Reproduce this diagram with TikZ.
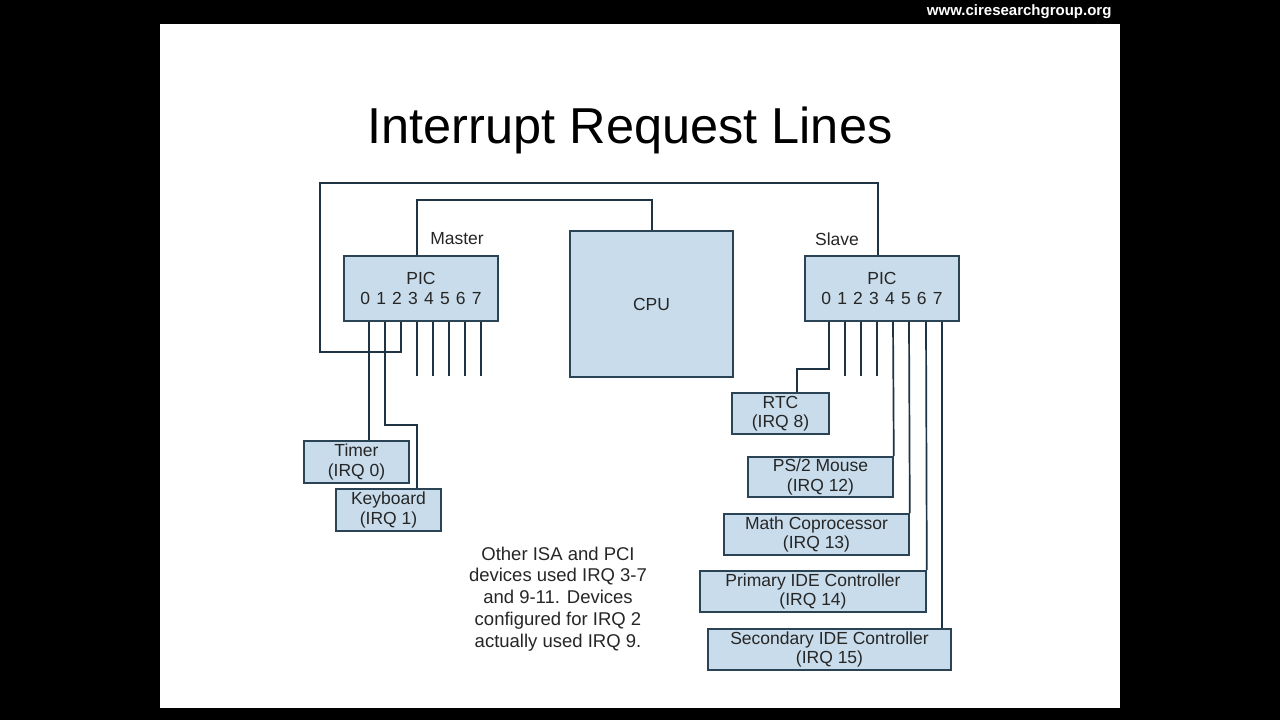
\documentclass[tikz,border=0pt]{standalone}
\usepackage{fontspec}
\setmainfont{Liberation Sans}
\newcommand\pindigits{0\hspace{6.2pt}1\hspace{6.2pt}2\hspace{6.2pt}3\hspace{6.2pt}4\hspace{6.2pt}5\hspace{6.2pt}6\hspace{6.2pt}7}
\begin{document}
\begin{tikzpicture}[x=1pt,y=-1pt,
  box/.style={draw=boxline,fill=boxfill,line width=1.6pt,inner sep=0pt,align=center,font=\fontsize{17.5}{19.5}\selectfont,text=black!85},
  wire/.style={draw=wirecol,line width=1.7pt},
  lbl/.style={font=\fontsize{17.5}{19}\selectfont,text=black!85}]
\definecolor{boxfill}{HTML}{C8DCEB}
\definecolor{boxline}{HTML}{2A4456}
\definecolor{wirecol}{HTML}{1E3344}
\useasboundingbox (0,0) rectangle (1280,720);
\fill[black] (0,0) rectangle (1280,720);
\fill[white] (160,24) rectangle (1120,708);
\node[text=white,font=\bfseries\fontsize{15}{17}\selectfont,anchor=east] (url) at (1115,12) {www.ciresearchgroup.org};
\node[font=\fontsize{50.5}{54}\selectfont] (title) at (630,130) {Interrupt Request Lines};
% boxes
\node[box,minimum width=154pt,minimum height=65pt] (mpic) at (421,288.5) {PIC\\\pindigits};
\node[box,minimum width=154pt,minimum height=65pt] (spic) at (882,288.5) {PIC\\\pindigits};
\node[box,minimum width=163pt,minimum height=146pt] (cpu) at (651.5,304) {CPU};
\node[box,minimum width=105pt,minimum height=42pt] (timer) at (356.5,462) {Timer\\(IRQ 0)};
\node[box,minimum width=105pt,minimum height=42pt] (kbd) at (388.5,510) {Keyboard\\(IRQ 1)};
\node[box,minimum width=97pt,minimum height=41pt] (rtc) at (780.5,413.5) {RTC\\(IRQ 8)};
\node[box,minimum width=145pt,minimum height=40pt] (mouse) at (820.5,477) {PS/2 Mouse\\(IRQ 12)};
\node[box,minimum width=185pt,minimum height=41pt] (math) at (816.5,534.5) {Math Coprocessor\\(IRQ 13)};
\node[box,minimum width=226pt,minimum height=41pt] (pide) at (813,591.5) {Primary IDE Controller\\(IRQ 14)};
\node[box,minimum width=243pt,minimum height=41pt] (side) at (829.5,649.5) {Secondary IDE Controller\\(IRQ 15)};
\node[lbl] (mlab) at (457,239) {Master};
\node[lbl] (slab) at (837,239) {Slave};
\node[lbl,align=center,font=\fontsize{18.5}{21.8}\selectfont] (note) at (558,599) {Other ISA and PCI\\devices used IRQ 3-7\\and 9-11. Devices\\configured for IRQ 2\\actually used IRQ 9.};
% wires
\draw[wire] (401,0 |- mpic.south) -- (401,352) -- (320,352) -- (320,183) -- (878,183) -- (878,0 |- spic.north);
\draw[wire] (417,0 |- mpic.north) -- (417,200) -- (652,200) -- (652,0 |- cpu.north);
\draw[wire] (369,0 |- mpic.south) -- (369,0 |- timer.north);
\draw[wire] (385,0 |- mpic.south) -- (385,425) -- (417,425) -- (417,0 |- kbd.north);
\foreach \x in {417,433,449,465,481} \draw[wire] (\x,0 |- mpic.south) -- (\x,376);
\draw[wire] (829,0 |- spic.south) -- (829,369) -- (797,369) -- (797,0 |- rtc.north);
\foreach \x in {845,861,877} \draw[wire] (\x,0 |- spic.south) -- (\x,376);
\draw[wire] (893,0 |- spic.south) -- (mouse.north east);
\draw[wire] (909,0 |- spic.south) -- (math.north east);
\draw[wire] (926,0 |- spic.south) -- (pide.north east);
\draw[wire] (942,0 |- spic.south) -- (942,0 |- side.north);
\end{tikzpicture}
\end{document}
